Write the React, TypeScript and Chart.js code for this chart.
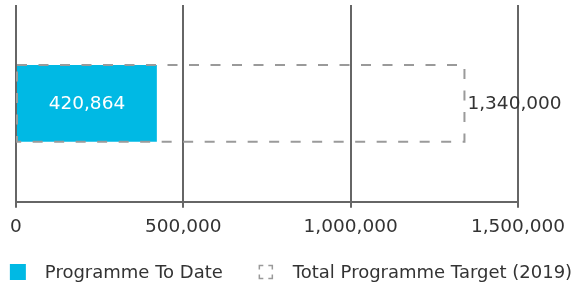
import React, { useEffect, useRef } from "react";
import { Chart, registerables } from "chart.js";

Chart.register(...registerables);

const categories = ["Programme"];
const programmeToDate = [420864];
const programmeTarget = [1340000];
const seriesLabels = ["Programme To Date", "Total Programme Target (2019)"];
const xTickMin = 0;
const xTickMax = 1500000;
const xTickStep = 500000;

const FONT = "'DejaVu Sans', sans-serif";
const BLUE = "#00B9E4";
const GRID = "#666666";
const DASH = "#9a9a9a";
const TEXT = "#333333";

const fmt = (v: number) => Number(v).toLocaleString("en-US");

const overlayPlugin = {
  id: "overlay",
  afterDatasetsDraw(chart: any) {
    const ctx = chart.ctx;
    const m0 = chart.getDatasetMeta(0);
    const m1 = chart.getDatasetMeta(1);
    ctx.save();
    m1.data.forEach((el: any, i: number) => {
      const { x, y, base, height } = el.getProps(["x", "y", "base", "height"], true);
      ctx.setLineDash([10, 11.5]);
      ctx.lineWidth = 2;
      ctx.strokeStyle = DASH;
      ctx.strokeRect(base, y - height / 2, x - base, height);
      ctx.setLineDash([]);
      ctx.fillStyle = TEXT;
      ctx.font = `18.5px ${FONT}`;
      ctx.textAlign = "left";
      ctx.textBaseline = "middle";
      ctx.fillText(fmt(programmeTarget[i]), x + 3, y + 1);
    });
    m0.data.forEach((el: any, i: number) => {
      const { x, y, base } = el.getProps(["x", "y", "base"], true);
      ctx.fillStyle = "#ffffff";
      ctx.font = `18.5px ${FONT}`;
      ctx.textAlign = "center";
      ctx.textBaseline = "middle";
      ctx.fillText(fmt(programmeToDate[i]), (x + base) / 2, y + 1);
    });
    ctx.restore();
  },
  afterDraw(chart: any) {
    const ctx = chart.ctx;
    ctx.save();
    ctx.font = `18px ${FONT}`;
    const w1 = ctx.measureText(seriesLabels[0]).width;
    const w2 = ctx.measureText(seriesLabels[1]).width;
    const box = 16;
    const gapBT = 19;
    const gapItems = 35;
    const total = box + gapBT + w1 + gapItems + box + gapBT + w2;
    let x = (chart.width - total) / 2;
    const cy = chart.height - 16;
    ctx.fillStyle = BLUE;
    ctx.fillRect(x, cy - box / 2, box, box);
    ctx.fillStyle = TEXT;
    ctx.textAlign = "left";
    ctx.textBaseline = "middle";
    ctx.fillText(seriesLabels[0], x + box + gapBT, cy + 1);
    x += box + gapBT + w1 + gapItems;
    // bracket icon
    const l = x + 1.5, r = x + box - 1.5, t = cy - box / 2 + 1.5, b = cy + box / 2 - 1.5;
    const c = 4;
    ctx.strokeStyle = DASH;
    ctx.lineWidth = 1.5;
    ctx.beginPath();
    ctx.moveTo(l, t + c); ctx.lineTo(l, t); ctx.lineTo(l + c, t);
    ctx.moveTo(r - c, t); ctx.lineTo(r, t); ctx.lineTo(r, t + c);
    ctx.moveTo(r, b - c); ctx.lineTo(r, b); ctx.lineTo(r - c, b);
    ctx.moveTo(l + c, b); ctx.lineTo(l, b); ctx.lineTo(l, b - c);
    ctx.stroke();
    ctx.fillStyle = TEXT;
    ctx.fillText(seriesLabels[1], x + box + gapBT, cy + 1);
    ctx.restore();
  },
};

export default function App() {
  const ref = useRef<HTMLCanvasElement | null>(null);
  useEffect(() => {
    if (!ref.current) return;
    const chart = new Chart(ref.current, {
      type: "bar",
      data: {
        labels: categories,
        datasets: [
          {
            label: seriesLabels[0],
            data: programmeToDate,
            backgroundColor: BLUE,
            borderWidth: 0,
            grouped: false,
            barPercentage: 0.39,
            categoryPercentage: 1,
            order: 1,
          } as any,
          {
            label: seriesLabels[1],
            data: programmeTarget,
            backgroundColor: "rgba(0,0,0,0)",
            borderWidth: 0,
            grouped: false,
            barPercentage: 0.39,
            categoryPercentage: 1,
            order: 0,
          } as any,
        ],
      },
      options: {
        indexAxis: "y",
        responsive: false,
        animation: false,
        layout: { padding: { left: 16, right: 64, top: 5, bottom: 42 } },
        plugins: {
          legend: { display: false },
          tooltip: { enabled: false },
        },
        scales: {
          x: {
            type: "linear",
            min: xTickMin,
            max: xTickMax,
            ticks: {
              stepSize: xTickStep,
              callback: (v: any) => fmt(v),
              color: TEXT,
              font: { family: FONT, size: 18.5 },
              padding: 8,
              maxRotation: 0,
            },
            grid: {
              color: GRID,
              lineWidth: 2,
              tickLength: 6,
              tickColor: GRID,
              drawTicks: true,
            },
            border: { display: true, color: GRID, width: 2 },
          },
          y: {
            type: "category",
            display: false,
          },
        },
      } as any,
      plugins: [overlayPlugin],
    });
    return () => chart.destroy();
  }, []);
  return (
    <div style={{ position: "fixed", left: 0, top: 0, width: 582, height: 288, background: "#fff" }}>
      <canvas ref={ref} width={582} height={288} style={{ display: "block" }} />
    </div>
  );
}
